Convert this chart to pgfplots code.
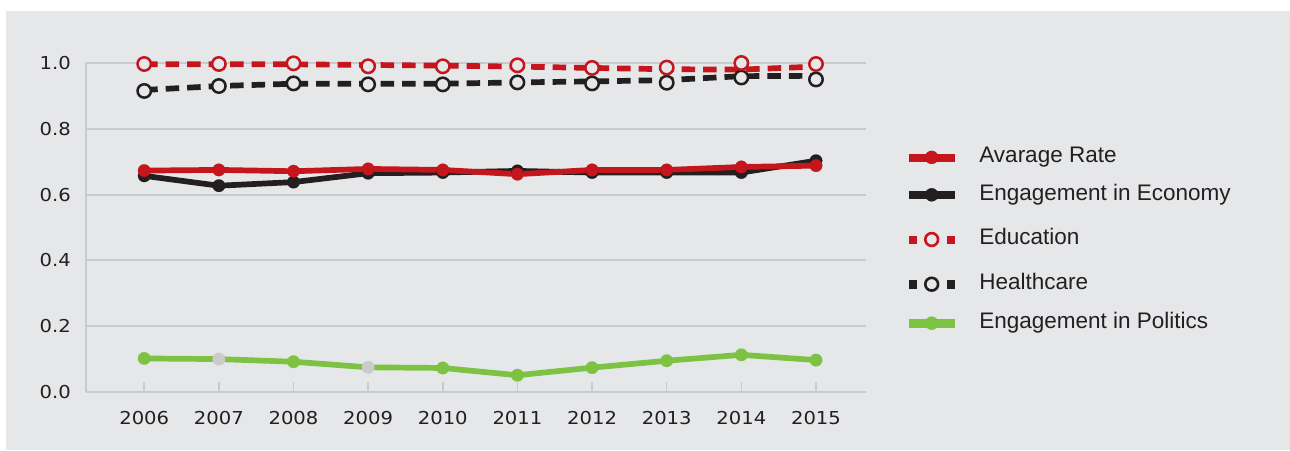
\documentclass[border=0pt]{standalone}
\usepackage{pgfplots}
\pgfplotsset{compat=1.18}
\usepackage{fontspec}
\setmainfont{Liberation Sans}
\newfontfamily\tickfont[FakeStretch=1.1]{DejaVu Sans}
\definecolor{bg}{HTML}{E6E7E8}
\definecolor{gridc}{HTML}{C9CACC}
\definecolor{myred}{HTML}{C4161C}
\definecolor{myblack}{HTML}{231F20}
\definecolor{mygreen}{HTML}{7DC242}
\definecolor{mygray}{HTML}{CBCBCB}
\definecolor{txt}{HTML}{231F20}

\pgfplotstableread{
year avg econ pol edum edul heam heal
2006 0.673 0.657 0.102 0.997 0.996 0.915 0.918
2007 0.675 0.627 0.100 0.997 0.996 0.930 0.930
2008 0.671 0.638 0.092 0.999 0.996 0.938 0.937
2009 0.678 0.665 0.075 0.990 0.994 0.935 0.937
2010 0.675 0.667 0.073 0.990 0.992 0.935 0.937
2011 0.662 0.672 0.051 0.993 0.989 0.941 0.941
2012 0.675 0.667 0.074 0.985 0.985 0.938 0.944
2013 0.675 0.667 0.095 0.986 0.981 0.940 0.948
2014 0.684 0.667 0.113 1.000 0.980 0.956 0.960
2015 0.688 0.703 0.097 0.997 0.989 0.950 0.961
}\datatable

\pgfplotstableread{
year pol
2007 0.100
2009 0.075
}\graypts

\pgfplotstableread{
year pol
2006 0.102
2008 0.092
2010 0.073
2011 0.051
2012 0.074
2013 0.095
2014 0.113
2015 0.097
}\greenpts

\begin{document}
\begin{tikzpicture}[x=1pt,y=1pt]
\fill[white] (0,0) rectangle (1290,450);
\fill[bg] (6,0) rectangle (1290,439);
\path[use as bounding box] (0,0) rectangle (1290,450);
\begin{axis}[
  at={(86pt,58pt)}, anchor=south west,
  scale only axis, width=780pt, height=329pt,
  xmin=2005.22, xmax=2015.67, ymin=0, ymax=1,
  clip=false,
  axis x line*=bottom, axis y line*=left,
  axis line style={draw=gridc, line width=2pt, -},
  xtick={2006,2007,2008,2009,2010,2011,2012,2013,2014,2015},
  xticklabels={2006,2007,2008,2009,2010,2011,2012,2013,2014,2015},
  ytick={0,0.2,0.4,0.6,0.8,1},
  yticklabels={0.0,0.2,0.4,0.6,0.8,1.0},
  ymajorgrids, grid style={draw=gridc, line width=2pt},
  ytick style={draw=none},
  xtick style={draw=gridc, line width=1.5pt},
  major tick length=10pt,
  xtick align=inside,
  tick label style={font=\tickfont\fontsize{17.8}{20}\selectfont, text=txt, inner sep=0pt},
  xticklabel shift=19pt,
  yticklabel shift=15pt,
  legend cell align=left,
  legend style={at={(1.0551,0.745)}, anchor=north west, draw=none, fill=none,
    inner sep=0pt, outer sep=0pt, font=\fontsize{22.5}{24}\selectfont, text=txt,
    row sep=20.2pt, column sep=25pt,
    nodes={inner sep=0pt, text height=16pt, text depth=5pt}},
]
% Healthcare
\addplot[forget plot, myblack, line width=5.7pt, dash pattern=on 13.5pt off 8pt] table[x=year,y=heal]{\datatable};
\addplot[forget plot, only marks, mark=*, mark size=6.7pt, mark options={solid, draw=myblack, fill=bg, line width=2.5pt}] table[x=year,y=heam]{\datatable};
% Education
\addplot[forget plot, myred, line width=5.7pt, dash pattern=on 13.5pt off 8pt] table[x=year,y=edul]{\datatable};
\addplot[forget plot, only marks, mark=*, mark size=6.7pt, mark options={solid, draw=myred, fill=bg, line width=2.5pt}] table[x=year,y=edum]{\datatable};
% Politics
\addplot[forget plot, only marks, mark=*, mark size=6.3pt, mark options={fill=mygray, draw=mygray, line width=0.1pt}] table[x=year,y=pol]{\graypts};
\addplot[forget plot, mygreen, line width=5.7pt, no marks] table[x=year,y=pol]{\datatable};
\addplot[forget plot, only marks, mark=*, mark size=6.3pt, mark options={fill=mygreen, draw=mygreen, line width=0.1pt}] table[x=year,y=pol]{\greenpts};
% Economy
\addplot[forget plot, myblack, line width=5.7pt, mark=*, mark size=6.3pt, mark options={fill=myblack, draw=myblack, line width=0.1pt}] table[x=year,y=econ]{\datatable};
% Average
\addplot[forget plot, myred, line width=5.7pt, mark=*, mark size=6.3pt, mark options={fill=myred, draw=myred, line width=0.1pt}] table[x=year,y=avg]{\datatable};

\addlegendimage{legend image code/.code={\path[draw=none,fill=none] (0pt,-10.5pt) rectangle (45pt,10.5pt); \fill[myred] (0pt,-3.6pt) rectangle (45pt,3.6pt); \fill[myred] (22.5pt,0pt) circle (6.5pt);}}
\addlegendentry{Avarage Rate}
\addlegendimage{legend image code/.code={\path[draw=none,fill=none] (0pt,-10.5pt) rectangle (45pt,10.5pt); \fill[myblack] (0pt,1.2pt) rectangle (45pt,8.4pt); \fill[myblack] (22.5pt,4.8pt) circle (6.5pt);}}
\addlegendentry{\raisebox{4.8pt}{Engagement in Economy}}
\addlegendimage{legend image code/.code={\path[draw=none,fill=none] (0pt,-10.5pt) rectangle (45pt,10.5pt); \fill[myred] (0pt,-2.35pt) rectangle (7.3pt,4.95pt); \fill[myred] (37.7pt,-2.35pt) rectangle (45pt,4.95pt); \draw[myred, line width=2.6pt] (22.5pt,1.3pt) circle (6.4pt);}}
\addlegendentry{\raisebox{1.3pt}{Education}}
\addlegendimage{legend image code/.code={\path[draw=none,fill=none] (0pt,-10.5pt) rectangle (45pt,10.5pt); \fill[myblack] (0pt,-5.85pt) rectangle (7.3pt,1.45pt); \fill[myblack] (37.7pt,-5.85pt) rectangle (45pt,1.45pt); \draw[myblack, line width=2.6pt] (22.5pt,-2.2pt) circle (6.4pt);}}
\addlegendentry{\raisebox{-2.2pt}{Healthcare}}
\addlegendimage{legend image code/.code={\path[draw=none,fill=none] (0pt,-10.5pt) rectangle (45pt,10.5pt); \fill[mygreen] (0pt,-3.6pt) rectangle (45pt,3.6pt); \fill[mygreen] (22.5pt,0pt) circle (6.5pt);}}
\addlegendentry{Engagement in Politics}
\end{axis}
\end{tikzpicture}
\end{document}
